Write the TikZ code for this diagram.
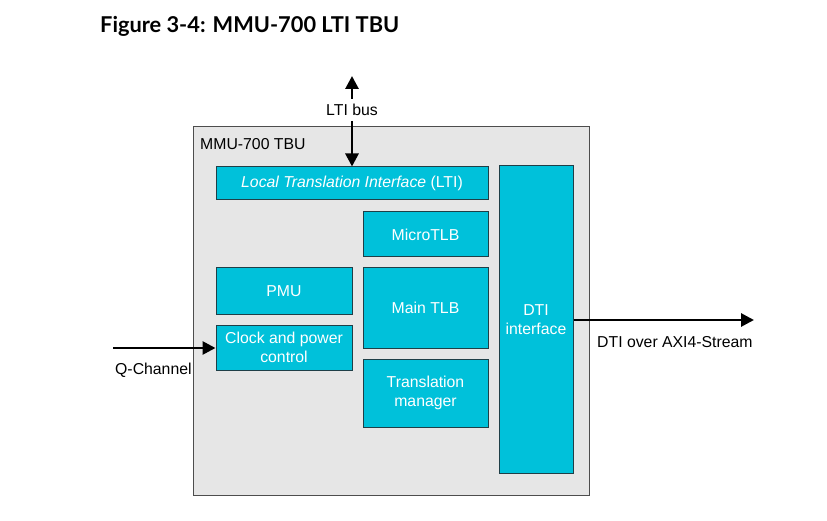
\documentclass[tikz,border=0pt]{standalone}
\usepackage{fontspec}
\setmainfont{Liberation Sans}
\newfontfamily\titlefont{Lato}
\usetikzlibrary{arrows.meta}
\definecolor{boxcyan}{HTML}{00C1DA}
\definecolor{boxedge}{HTML}{1F3F47}
\definecolor{outerfill}{HTML}{E6E6E6}
\definecolor{outeredge}{HTML}{4D4D4D}
\tikzset{
  blk/.style={draw=boxedge, line width=1pt, fill=boxcyan, text=white, align=center, inner sep=0pt, font=\fontsize{15.8}{19.5}\selectfont},
  lbl/.style={font=\fontsize{15.8}{19.5}\selectfont, text=black, inner sep=0pt},
  bigarrow/.style={line width=2.8pt, -{Triangle[length=13pt,width=13pt]}},
}
\begin{document}
\begin{tikzpicture}[x=1pt,y=-1pt]
\useasboundingbox (0,0) rectangle (827,521);
\node[anchor=base west, inner sep=0pt, font=\titlefont\bfseries\fontsize{21.8}{26}\selectfont] (title) at (100,33) {Figure 3-4: MMU-700 LTI TBU};
\node[draw=outeredge, line width=1pt, fill=outerfill, minimum width=396pt, minimum height=368pt, inner sep=0pt] (outer) at (391,311) {};
\node[lbl, anchor=west] (tbulabel) at (200,144) {MMU-700 TBU};
\node[blk, minimum width=272pt, minimum height=33pt] (lti) at (352,183.5) {\itshape Local Translation Interface\/ \upshape(LTI)};
\node[blk, minimum width=125pt, minimum height=45pt] (micro) at (425.5,234.5) {MicroTLB};
\node[blk, minimum width=136pt, minimum height=46pt] (pmu) at (284,291) {PMU};
\node[blk, minimum width=125pt, minimum height=80pt] (main) at (425.5,308) {Main TLB};
\node[blk, minimum width=136pt, minimum height=45pt] (clock) at (284,347.5) {Clock and power\\control};
\node[blk, minimum width=125pt, minimum height=68pt] (trans) at (425.5,393) {Translation\\manager};
\node[blk, minimum width=74pt, minimum height=307pt] (dti) at (536,319.5) {DTI\\interface};
% LTI bus
\coordinate (ltitop) at (352,76);
\node[lbl, inner ysep=5pt] (ltibus) at (352,110) {LTI bus};
\draw[bigarrow] (ltibus.north) -- (ltitop);
\draw[bigarrow] (ltibus.south) -- (lti.north);
% Q-Channel
\coordinate (qstart) at (113,348);
\draw[bigarrow] (qstart) -- (clock.west |- qstart);
\node[lbl, anchor=west] (qlabel) at (115,370) {Q-Channel};
% DTI
\coordinate (dtiend) at (754,320);
\draw[bigarrow] (dti.east |- dtiend) -- (dtiend);
\node[lbl, anchor=west] (dtilabel) at (597,342) {DTI over AXI4-Stream};
\end{tikzpicture}
\end{document}
